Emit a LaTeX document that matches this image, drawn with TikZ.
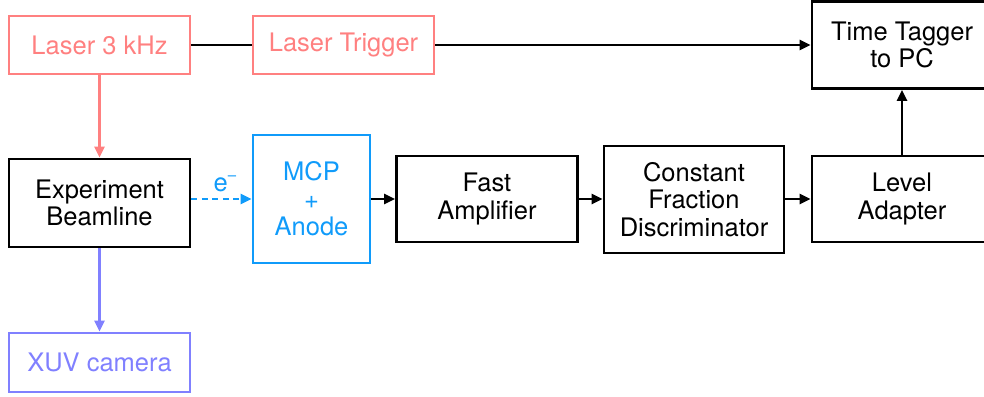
\documentclass[tikz,border=0pt]{standalone}
\usepackage{fontspec}
\setmainfont{TeX Gyre Heros}
\usetikzlibrary{arrows.meta}
\definecolor{salmon}{RGB}{255,128,128}
\definecolor{mcpblue}{RGB}{16,155,250}
\definecolor{xuvpurple}{RGB}{128,128,255}
\begin{document}
\begin{tikzpicture}[x=1pt,y=-1pt,
  box/.style={draw, line width=2.8pt, align=center, inner sep=0pt,
    font=\fontsize{25.5}{27.5}\selectfont},
  conn/.style={line width=2.8pt, -{Triangle[length=11pt,width=10pt]}},
  plain/.style={line width=2.8pt}]
\useasboundingbox (0,0) rectangle (984,396);
\node[box, salmon, text=salmon, minimum width=181pt, minimum height=58pt] (laser) at (99.5,45) {Laser 3 kHz};
\node[box, salmon, text=salmon, minimum width=181pt, minimum height=58pt] (trig) at (343.5,45) {Laser Trigger};
\node[box, minimum width=180pt, minimum height=87pt] (tt) at (902,45) {Time Tagger\\to PC};
\node[box, minimum width=181pt, minimum height=88pt] (exp) at (99.5,203) {Experiment\\Beamline};
\node[box, mcpblue, text=mcpblue, minimum width=117pt, minimum height=128pt] (mcp) at (311.5,199) {MCP\\+\\Anode};
\node[box, minimum width=181pt, minimum height=86pt] (amp) at (487,199) {Fast\\Amplifier};
\node[box, minimum width=180pt, minimum height=107pt] (cfd) at (694,199.5) {Constant\\Fraction\\Discriminator};
\node[box, minimum width=180pt, minimum height=86pt] (lvl) at (902,199) {Level\\Adapter};
\node[box, xuvpurple, text=xuvpurple, minimum width=181pt, minimum height=59pt] (xuv) at (99.5,362.5) {XUV camera};
\draw[plain] (laser.east) -- (trig.west);
\draw[conn] (trig.east) -- (tt.west);
\draw[conn, salmon] (laser.south) -- (exp.north);
\draw[conn, xuvpurple] (exp.south) -- (xuv.north);
\coordinate (eout) at (mcp.west -| exp.east);
\draw[conn, mcpblue, dash pattern=on 6pt off 4.5pt] (eout) -- (mcp.west);
\node[text=mcpblue, font=\fontsize{25.5}{27.5}\selectfont] (elabel) at (225,184) {e\raisebox{0.42em}{\fontsize{15}{15}\selectfont –}};
\draw[conn] (mcp.east) -- (amp.west);
\draw[conn] (amp.east) -- (cfd.west |- amp.east);
\draw[conn] (cfd.east |- lvl.west) -- (lvl.west);
\draw[conn] (lvl.north) -- (tt.south);
\end{tikzpicture}
\end{document}
